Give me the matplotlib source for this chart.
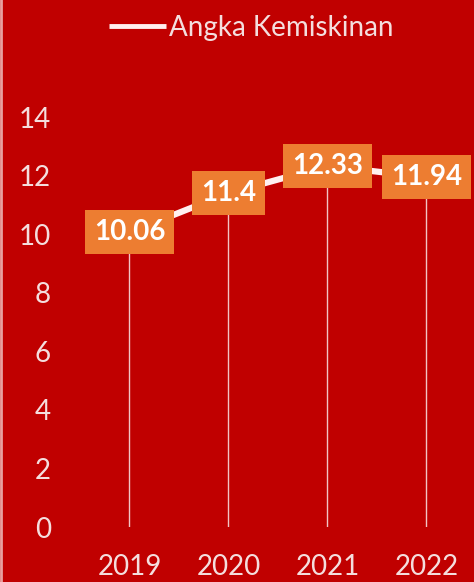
import matplotlib
matplotlib.use("Agg")
import matplotlib.pyplot as plt

years = ["2019", "2020", "2021", "2022"]
angka_kemiskinan = [10.06, 11.4, 12.33, 11.94]
yticks = [0, 2, 4, 6, 8, 10, 12, 14]

bg = "#C00000"
txt = "#F4DEDE"
orange = "#ED7D31"

plt.rcParams["font.family"] = ["Lato", "DejaVu Sans"]

fig = plt.figure(figsize=(4.74, 5.82), dpi=100, facecolor=bg)
ax = fig.add_axes([80 / 474, 55 / 582, 394 / 474, 410 / 582], facecolor=bg)

x = list(range(len(years)))
ax.vlines(x, 0, angka_kemiskinan, color="#F2C4C4", lw=1.0)
ax.plot(x, angka_kemiskinan, color="#FFF0F0", lw=4.5, solid_capstyle="butt",
        label="Angka Kemiskinan", clip_on=False)

for xi, v in zip(x, angka_kemiskinan):
    ax.text(xi, v, f"{v:g}", ha="center", va="center", color="white",
            fontsize=20, fontweight="bold",
            bbox=dict(boxstyle="square,pad=0.32", fc=orange, ec="none"))

ax.set_xlim(-0.5, 3.48)
ax.set_ylim(0, 14)
ax.set_xticks(x)
ax.set_xticklabels(years)
ax.set_yticks(yticks)
ax.tick_params(length=0, colors=txt, labelsize=20)
ax.tick_params(axis="y", pad=21)
ax.tick_params(axis="x", pad=19.5)
for s in ax.spines.values():
    s.set_visible(False)

leg = fig.legend(loc="center", bbox_to_anchor=(251 / 474, 1 - 28 / 582),
                 frameon=False, fontsize=20, handlelength=2.05, handletextpad=0.1,
                 labelcolor=txt)
leg.get_lines()[0].set_linewidth(3.5)

# thin light edge on the left
fig.add_artist(plt.Line2D([0.002, 0.002], [0, 1], color="#E8A0A0", lw=2,
                          transform=fig.transFigure))

fig.savefig("out.png", dpi=100, facecolor=bg)
